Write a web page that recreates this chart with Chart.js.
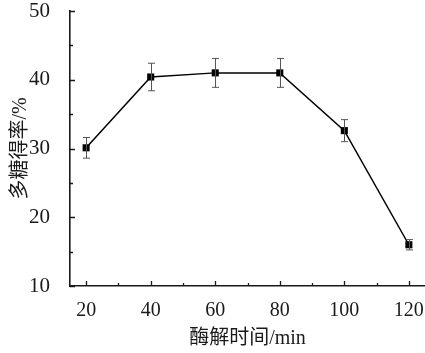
<!DOCTYPE html>
<html>
<head>
<meta charset="utf-8">
<script src="https://cdn.jsdelivr.net/npm/chart.js@4.4.0/dist/chart.umd.min.js"></script>
<style>
  html, body { margin: 0; padding: 0; background: #fff; }
  #wrap { width: 425px; height: 353px; }
</style>
</head>
<body>
<div id="wrap"><canvas id="c"></canvas></div>
<script>
// data
const times = [20, 40, 60, 80, 100, 120];          // 酶解时间/min
const yieldPct = [30.1, 40.4, 41.0, 41.0, 32.6, 16.0]; // 多糖得率/%
const errPct = [1.5, 2.0, 2.1, 2.1, 1.6, 0.75];
const xTicks = [20, 40, 60, 80, 100, 120];
const xMinor = [30, 50, 70, 90, 110];
const yTicks = [10, 20, 30, 40, 50];
const yMinor = [15, 25, 35, 45];

const serif = "'Liberation Serif', 'Times New Roman', 'Noto Sans CJK SC', serif";
const inkColor = '#1a1a1a';

// error bars, drawn through the scales
const errorBars = {
    id: 'errorBars',
    afterDatasetsDraw(chart) {
        const ctx = chart.ctx;
        const xs = chart.scales.x, ys = chart.scales.y;
        ctx.save();
        ctx.strokeStyle = '#555';
        ctx.lineWidth = 1;
        times.forEach((t, i) => {
            const px = Math.round(xs.getPixelForValue(t)) + 0.5;
            const top = ys.getPixelForValue(yieldPct[i] + errPct[i]);
            const bot = ys.getPixelForValue(yieldPct[i] - errPct[i]);
            ctx.beginPath();
            ctx.moveTo(px, top); ctx.lineTo(px, bot);
            ctx.moveTo(px - 3.5, top); ctx.lineTo(px + 3.5, top);
            ctx.moveTo(px - 3.5, bot); ctx.lineTo(px + 3.5, bot);
            ctx.stroke();
        });
        ctx.restore();
    }
};

// inward tick marks like the original plot
const inwardTicks = {
    id: 'inwardTicks',
    afterDraw(chart) {
        const ctx = chart.ctx;
        const xs = chart.scales.x, ys = chart.scales.y;
        const area = chart.chartArea;
        ctx.save();
        ctx.strokeStyle = inkColor;
        ctx.lineWidth = 1.3;
        ctx.beginPath();
        xTicks.forEach(v => {
            const p = Math.round(xs.getPixelForValue(v)) + 0.5;
            ctx.moveTo(p, area.bottom); ctx.lineTo(p, area.bottom - 5);
        });
        xMinor.forEach(v => {
            const p = Math.round(xs.getPixelForValue(v)) + 0.5;
            ctx.moveTo(p, area.bottom); ctx.lineTo(p, area.bottom - 3);
        });
        yTicks.forEach(v => {
            const p = Math.round(ys.getPixelForValue(v)) + 0.5;
            ctx.moveTo(area.left, p); ctx.lineTo(area.left + 5, p);
        });
        yMinor.forEach(v => {
            const p = Math.round(ys.getPixelForValue(v)) + 0.5;
            ctx.moveTo(area.left, p); ctx.lineTo(area.left + 3, p);
        });
        ctx.stroke();
        ctx.restore();
    }
};

new Chart(document.getElementById('c'), {
    type: 'line',
    data: {
        datasets: [{
            data: times.map((t, i) => ({ x: t, y: yieldPct[i] })),
            borderColor: '#000',
            backgroundColor: '#000',
            borderWidth: 1.5,
            pointStyle: 'rect',
            pointRadius: 5,
            pointBackgroundColor: '#000',
            pointBorderColor: '#000',
            pointBorderWidth: 0,
            tension: 0,
            fill: false
        }]
    },
    options: {
        responsive: true,
        maintainAspectRatio: false,
        animation: false,
        layout: { autoPadding: false, padding: { top: 11, right: 0, left: 0, bottom: 0 } },
        plugins: {
            legend: { display: false },
            tooltip: { enabled: false }
        },
        scales: {
            x: {
                type: 'linear',
                min: 15,
                max: 125,
                afterBuildTicks: (scale) => { scale.ticks = xTicks.map(v => ({ value: v })); },
                afterFit: (scale) => {
                    scale.height = 67;
                    scale.paddingLeft = 0;
                    scale.paddingRight = 0;
                },
                grid: { display: false },
                border: { display: true, color: inkColor, width: 1.6 },
                ticks: {
                    color: inkColor,
                    padding: 5,
                    maxRotation: 0,
                    autoSkip: false,
                    font: { family: serif, size: 20 }
                },
                title: {
                    display: true,
                    text: '酶解时间/min',
                    color: inkColor,
                    padding: { top: 0, bottom: 2 },
                    font: { family: serif, size: 20 }
                }
            },
            y: {
                min: 10,
                max: 50,
                afterBuildTicks: (scale) => { scale.ticks = yTicks.map(v => ({ value: v })); },
                afterFit: (scale) => {
                    scale.width = 70;
                    scale.paddingTop = 0;
                    scale.paddingBottom = 0;
                },
                grid: { display: false },
                border: { display: true, color: inkColor, width: 1.6 },
                ticks: {
                    color: inkColor,
                    padding: 12,
                    font: { family: serif, size: 21 }
                },
                title: {
                    display: true,
                    text: '多糖得率/%',
                    color: inkColor,
                    padding: { top: 9, bottom: 0 },
                    font: { family: serif, size: 20 }
                }
            }
        }
    },
    plugins: [errorBars, inwardTicks]
});
</script>
</body>
</html>
